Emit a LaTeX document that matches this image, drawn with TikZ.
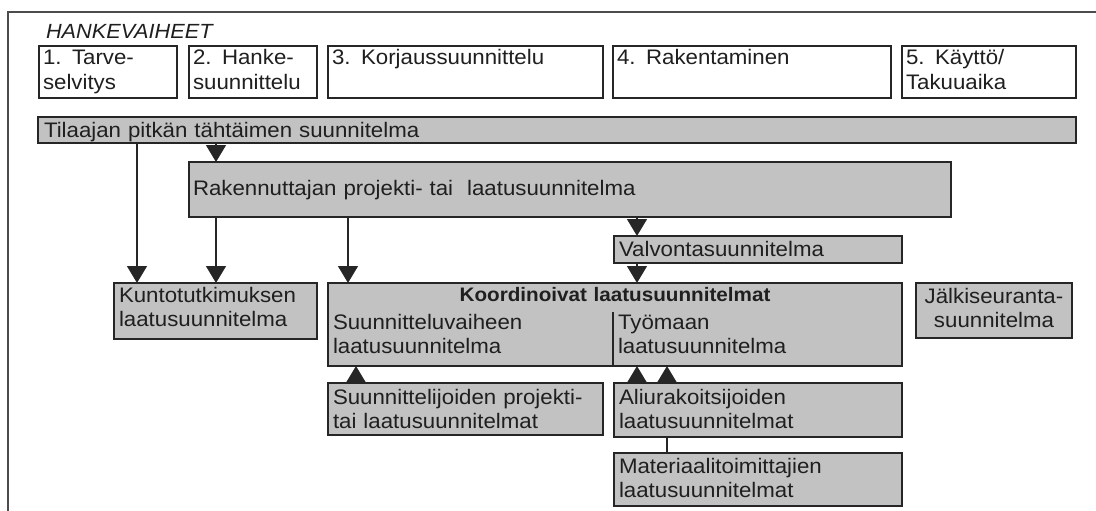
\documentclass[tikz,border=0pt]{standalone}
\usepackage{fontspec}
\setmainfont{Liberation Sans}[FakeStretch=1.06]
\usetikzlibrary{arrows.meta,calc}
\begin{document}
\begin{tikzpicture}[x=1pt,y=-1pt,
  every node/.style={font=\fontsize{21}{24.5}\selectfont, inner sep=0pt, outer sep=0pt, text=black!88},
  phase/.style={draw=black!85, line width=1.3pt, fill=white, anchor=north west, align=left, inner xsep=4pt},
  plan/.style={draw=black!85, line width=1.7pt, fill=black!24, anchor=north west, align=left, inner xsep=5pt},
  sub/.style={anchor=base west, align=left, text width=270pt},
  arr/.style={draw=black!85, line width=1.4pt, -{Triangle[width=20pt,length=17pt]}},
  conn/.style={draw=black!85, line width=1.4pt},
  frame/.style={draw=black!70, line width=1.5pt}
]
\useasboundingbox (0,0) rectangle (1096,511);
\draw[frame] (8,520) -- (8,12) -- (1100,12);

\node[anchor=base west, font=\fontsize{20.5}{24.5}\selectfont\itshape] (hv) at (46,39) {HANKEVAIHEET};

% phases
\node[phase, text width=130pt, text height=19pt, text depth=33pt] (p1) at (39,46) {1. Tarve-\\selvitys};
\node[phase, text width=120pt, text height=19pt, text depth=33pt] (p2) at (189,46) {2. Hanke-\\suunnittelu};
\node[phase, text width=267pt, text height=19pt, text depth=33pt] (p3) at (328,46) {3. Korjaussuunnittelu};
\node[phase, text width=270pt, text height=19pt, text depth=33pt] (p4) at (613,46) {4. Rakentaminen};
\node[phase, text width=166pt, text height=19pt, text depth=33pt] (p5) at (902,46) {5. Käyttö/\\Takuuaika};

% plans
\node[plan, inner xsep=6pt, text width=1026pt, text height=21pt, text depth=5pt] (til) at (38,117) {Tilaajan pitkän tähtäimen suunnitelma};
\node[plan, inner xsep=4pt, text width=754pt, text height=33pt, text depth=22pt] (rak) at (189,162) {Rakennuttajan projekti- tai\ \ laatusuunnitelma};
\node[plan, text width=278pt, text height=20pt, text depth=7pt] (valv) at (614,236) {Valvontasuunnitelma};
\node[plan, text width=193pt, text height=19pt, text depth=37pt] (kunto) at (114,283) {Kuntotutkimuksen\\laatusuunnitelma};
\node[plan, align=center, text width=564pt, text height=18pt, text depth=65pt, font=\fontsize{19.5}{24.5}\selectfont\bfseries] (koord) at (328,283) {Koordinoivat laatusuunnitelmat};
\node[plan, align=center, text width=146pt, text height=20pt, text depth=35pt] (jalki) at (916,283) {Jälkiseuranta-\\suunnitelma};
\node[plan, text width=265pt, text height=21pt, text depth=31pt] (suun) at (328,383) {Suunnittelijoiden projekti-\\tai laatusuunnitelmat};
\node[plan, text width=278pt, text height=21pt, text depth=33pt] (ali) at (614,383) {Aliurakoitsijoiden\\laatusuunnitelmat};
\node[plan, text width=278pt, text height=20pt, text depth=33pt] (mat) at (614,453) {Materiaalitoimittajien\\laatusuunnitelmat};

% sub-columns inside Koordinoivat
\node[sub] (sv) at (333,329) {Suunnitteluvaiheen\\laatusuunnitelma};
\node[sub] (tm) at (618,329) {Työmaan\\laatusuunnitelma};
\coordinate (divtop) at (613,312);
\draw[conn] (divtop) -- (divtop |- koord.south);

% connector x positions
\coordinate (xa) at (137,0);
\coordinate (xb) at (216,0);
\coordinate (xc) at (348,0);
\coordinate (xd) at (637,0);
\coordinate (xe) at (356,0);
\coordinate (xf) at (667,0);

\draw[arr] (xa |- til.south) -- (xa |- kunto.north);
\draw[arr] (xb |- til.south) -- (xb |- rak.north);
\draw[arr] (xb |- rak.south) -- (xb |- kunto.north);
\draw[arr] (xc |- rak.south) -- (xc |- koord.north);
\draw[arr] (xd |- rak.south) -- (xd |- valv.north);
\draw[arr] (xd |- valv.south) -- (xd |- koord.north);
\draw[arr] (xe |- suun.north) -- (xe |- koord.south);
\draw[arr] (xd |- ali.north) -- (xd |- koord.south);
\draw[arr] (xf |- ali.north) -- (xf |- koord.south);
\draw[conn] (xf |- ali.south) -- (xf |- mat.north);
\end{tikzpicture}
\end{document}
